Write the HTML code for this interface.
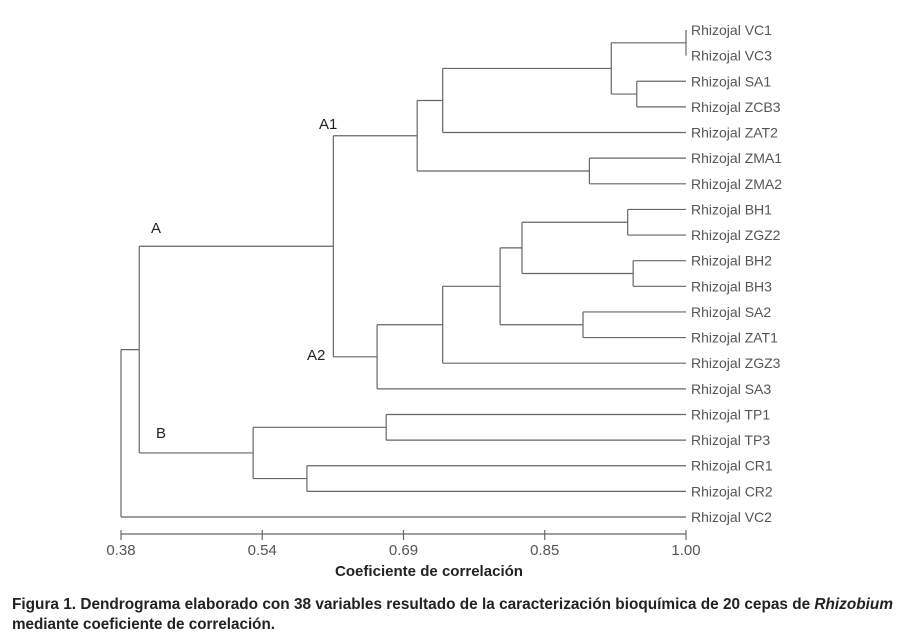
<!DOCTYPE html>
<html><head><meta charset="utf-8"><style>
html,body{margin:0;padding:0;background:#fff;width:900px;height:639px;overflow:hidden}
svg{display:block;font-family:"Liberation Sans",sans-serif}
</style></head><body>
<svg id="chart" width="900" height="639" viewBox="0 0 900 639">
<g id="branches"></g>
<g id="leaves"></g>
<g id="axis"></g>
<text x="151" y="233" font-size="15" fill="#222">A</text>
<text x="319" y="129" font-size="15" fill="#222">A1</text>
<text x="307" y="360" font-size="15" fill="#222">A2</text>
<text x="156" y="438" font-size="15" fill="#222">B</text>
<text x="429" y="576" font-size="15" font-weight="bold" fill="#222" text-anchor="middle" textLength="188" lengthAdjust="spacingAndGlyphs">Coeficiente de correlación</text>
<text x="12" y="609" font-size="16" font-weight="bold" fill="#222" textLength="881" lengthAdjust="spacingAndGlyphs">Figura 1. Dendrograma elaborado con 38 variables resultado de la caracterización bioquímica de 20 cepas de <tspan font-style="italic">Rhizobium</tspan></text>
<text x="12" y="629" font-size="16" font-weight="bold" fill="#222" textLength="263" lengthAdjust="spacingAndGlyphs">mediante coeficiente de correlación.</text>
</svg>
<script>
const leafNames = ["VC1","VC3","SA1","ZCB3","ZAT2","ZMA1","ZMA2","BH1","ZGZ2","BH2","BH3","SA2","ZAT1","ZGZ3","SA3","TP1","TP3","CR1","CR2","VC2"];
// merges: children are leaf indices (numbers) or "n<k>" node refs
const mergeLeft  = [0, 2, "n0", "n2", 5, "n3", 7, 9, "n6", 11, "n8", "n10", "n11", 15, 17, "n13", "n5", "n16", "n17"];
const mergeRight = [1, 3, "n1", 4, 6, "n4", 8, 10, "n7", 12, "n9", 13, 14, 16, 18, "n14", "n12", "n15", 19];
const mergeHeight = [1.00, 0.946, 0.918, 0.733, 0.894, 0.705, 0.936, 0.942, 0.820, 0.887, 0.796, 0.733, 0.661, 0.671, 0.584, 0.525, 0.613, 0.40, 0.38];
const tickValues = [0.38, 0.535, 0.69, 0.845, 1.00];
const tickLabels = ["0.38", "0.54", "0.69", "0.85", "1.00"];

const X0 = 121, X1 = 686, VMIN = 0.38, VMAX = 1.00;
const xScale = v => X0 + (v - VMIN) / (VMAX - VMIN) * (X1 - X0);
const Y0 = 30, Y1 = 517;
const yScale = i => Y0 + i * (Y1 - Y0) / (leafNames.length - 1);
const NS = "http://www.w3.org/2000/svg";
const br = document.getElementById("branches");
const lv = document.getElementById("leaves");
const ax = document.getElementById("axis");
function line(parent, x1, y1, x2, y2, name) {
  const l = document.createElementNS(NS, "line");
  l.setAttribute("x1", x1); l.setAttribute("y1", y1);
  l.setAttribute("x2", x2); l.setAttribute("y2", y2);
  l.setAttribute("stroke", "#666"); l.setAttribute("stroke-width", "1.2");
  
  
  parent.appendChild(l);
}
leafNames.forEach((n, i) => {
  const t = document.createElementNS(NS, "text");
  t.setAttribute("x", 691); t.setAttribute("y", yScale(i) + 5);
  t.setAttribute("font-size", "14"); t.setAttribute("fill", "#555");
  t.textContent = "Rhizojal " + n;
  
  
  lv.appendChild(t);
});
const nodePos = [];
function pos(c) {
  if (typeof c === "number") return { x: xScale(1.0), y: yScale(c) };
  return nodePos[parseInt(c.slice(1))];
}
mergeHeight.forEach((h, k) => {
  const a = pos(mergeLeft[k]), b = pos(mergeRight[k]);
  const x = xScale(h);
  line(br, x, a.y, x, b.y, 'branch-vertical-' + k);
  line(br, x, a.y, a.x, a.y, 'branch-left-' + k);
  line(br, x, b.y, b.x, b.y, 'branch-right-' + k);
  nodePos[k] = { x: x, y: (a.y + b.y) / 2 };
});
line(ax, X0, 534, X1, 534, 'x-axis-line');
tickValues.forEach((v, i) => {
  line(ax, xScale(v), 530, xScale(v), 540, 'x-tick-' + i);
  const t = document.createElementNS(NS, "text");
  t.setAttribute("x", xScale(v)); t.setAttribute("y", 555);
  t.setAttribute("font-size", "15"); t.setAttribute("fill", "#555");
  t.setAttribute("text-anchor", "middle");
  t.textContent = tickLabels[i];
  
  
  ax.appendChild(t);
});
</script>
</body></html>
